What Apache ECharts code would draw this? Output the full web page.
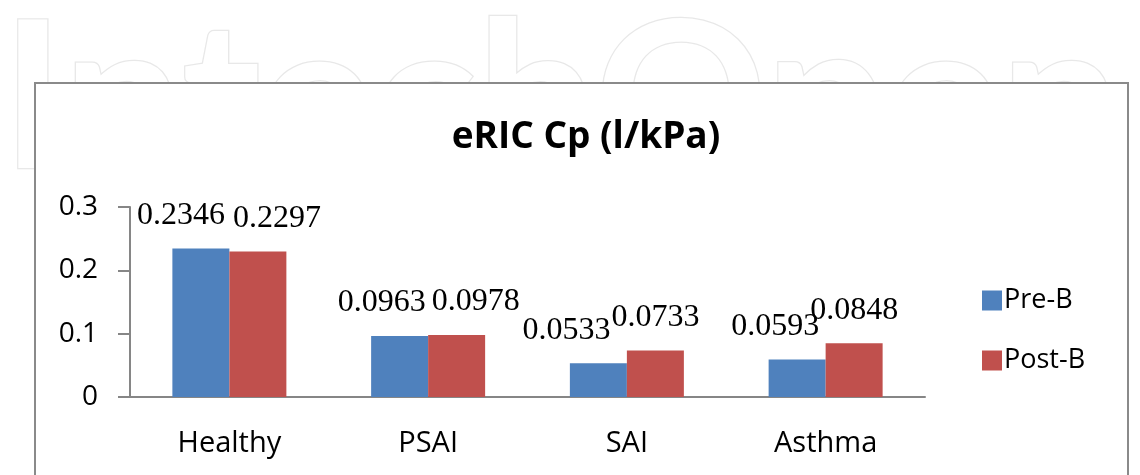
<!DOCTYPE html>
<html>
<head>
<meta charset="utf-8">
<script src="https://cdn.jsdelivr.net/npm/echarts@6/dist/echarts.min.js"></script>
<style>
  html, body { margin: 0; padding: 0; background: #fff; }
  #root { width: 1140px; height: 475px; }
</style>
</head>
<body>
<div id="root"></div>
<script>
// values
const categories = ["Healthy", "PSAI", "SAI", "Asthma"];
const preB = [0.2346, 0.0963, 0.0533, 0.0593];
const postB = [0.2297, 0.0978, 0.0733, 0.0848];
const yTicks = [0, 0.1, 0.2, 0.3];

// excel nudges its labels sideways so they don't collide
const preShift = [-20, -18, -32, -22];
const postShift = [19, 19, 0, 0];

const axisGray = "#868686";
const sans = "'Open Sans', sans-serif";
const serif = "'Liberation Serif', serif";

function labelled(values, shifts) {
  return values.map((v, i) => ({
    value: v,
    label: { offset: [shifts[i], 0] }
  }));
}

const chart = echarts.init(document.getElementById("root"), null, { renderer: "canvas" });

chart.setOption({
  backgroundColor: "#fff",
  animation: false,
  graphic: [
    {
      // faint watermark behind the chart frame
      type: "text",
      z: -10,
      left: 0,
      top: -2,
      silent: true,
      style: {
        text: "IntechOpen",
        fontSize: 205,
        fontFamily: "Lato",
        fontWeight: "bold",
        fill: "#fff",
        stroke: "#e8e8e8",
        lineWidth: 2.5
      },
      scaleX: 1.04
    },
    {
      type: "rect",
      z: -5,
      silent: true,
      shape: { x: 35, y: 83, width: 1093, height: 420 },
      style: { fill: "#fff", stroke: "#8a8a8a", lineWidth: 2 }
    }
  ],
  title: {
    text: "eRIC Cp (l/kPa)",
    left: 581,
    top: 114,
    textAlign: "center",
    textStyle: { fontFamily: sans, fontSize: 37, fontWeight: "bold", color: "#000" }
  },
  legend: {
    orient: "vertical",
    left: 977,
    top: 282,
    itemWidth: 20,
    itemHeight: 20,
    itemGap: 33,
    icon: "rect",
    textStyle: { fontFamily: sans, fontSize: 27, color: "#000", padding: [0, 0, 0, -3] },
    data: ["Pre-B", "Post-B"]
  },
  grid: { left: 130, right: 215, top: 207, bottom: 78 },
  xAxis: {
    type: "category",
    data: categories,
    axisLine: { lineStyle: { color: axisGray, width: 2 } },
    axisTick: { length: 10, lineStyle: { color: axisGray, width: 2 } },
    axisLabel: { fontFamily: sans, fontSize: 29, color: "#000", margin: 32 }
  },
  yAxis: {
    type: "value",
    min: yTicks[0],
    max: yTicks[yTicks.length - 1],
    interval: 0.1,
    axisLine: { show: true, lineStyle: { color: axisGray, width: 2 } },
    axisTick: { show: true, length: 12, lineStyle: { color: axisGray, width: 2 } },
    splitLine: { show: false },
    axisLabel: {
      fontFamily: sans, fontSize: 28, color: "#000", margin: 32,
      formatter: v => String(Math.round(v * 10) / 10)
    }
  },
  series: [
    {
      name: "Pre-B",
      type: "bar",
      data: labelled(preB, preShift),
      barWidth: 57,
      barGap: "0%",
      itemStyle: { color: "#4F81BD" },
      label: {
        show: true, position: "top", distance: 17,
        fontFamily: serif, fontSize: 32, color: "#000"
      }
    },
    {
      name: "Post-B",
      type: "bar",
      data: labelled(postB, postShift),
      barWidth: 57,
      barGap: "0%",
      itemStyle: { color: "#C0504D" },
      label: {
        show: true, position: "top", distance: 17,
        fontFamily: serif, fontSize: 32, color: "#000"
      }
    }
  ]
});
</script>
</body>
</html>
